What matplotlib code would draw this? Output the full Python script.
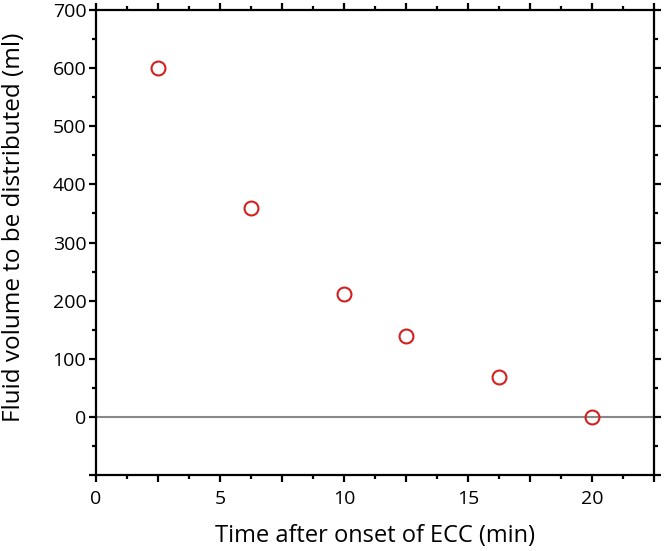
import matplotlib
matplotlib.use("Agg")
import matplotlib.pyplot as plt
from matplotlib.ticker import MultipleLocator, FuncFormatter

time_min = [2.5, 6.25, 10.0, 12.5, 16.25, 20.0]
volume_ml = [600, 360, 212, 139, 69, 0]

plt.rcParams['font.family'] = ['Open Sans', 'DejaVu Sans']

fig = plt.figure(figsize=(6.64, 5.51), dpi=100)
ax = fig.add_axes([96/664, 1-475/551, (654-96)/664, (475-10)/551])

ax.axhline(0, color='#888888', lw=1.5, zorder=1)
ax.plot(time_min, volume_ml, 'o', ms=10, mfc='none', mec='#d42020', mew=1.5, zorder=3)

ax.set_xlim(0, 22.5)
ax.set_ylim(-100, 700)
ax.xaxis.set_major_locator(MultipleLocator(2.5))
ax.xaxis.set_minor_locator(MultipleLocator(1.25))
ax.xaxis.set_major_formatter(FuncFormatter(lambda v, p: f"{int(round(v))}" if abs(v/5 - round(v/5)) < 1e-6 else ""))
ax.yaxis.set_major_locator(MultipleLocator(100))
ax.yaxis.set_minor_locator(MultipleLocator(50))
ax.yaxis.set_major_formatter(FuncFormatter(lambda v, p: f"{int(round(v))}" if v >= 0 else ""))

for s in ax.spines.values():
    s.set_linewidth(1.6)
ax.tick_params(which='both', direction='out', top=True, right=True, width=1.6, colors='black', labelsize=14)
ax.tick_params(which='major', length=5)
ax.tick_params(which='minor', length=3)
ax.tick_params(axis='x', pad=6)
ax.tick_params(axis='y', pad=2)

ax.set_xlabel('Time after onset of ECC (min)', fontsize=17)
ax.set_ylabel('Fluid volume to be distributed (ml)', fontsize=17.5)
ax.xaxis.set_label_coords(0.5, -0.105)
ax.yaxis.set_label_coords(-0.125, 0.532)

fig.savefig('out.png', dpi=100)
